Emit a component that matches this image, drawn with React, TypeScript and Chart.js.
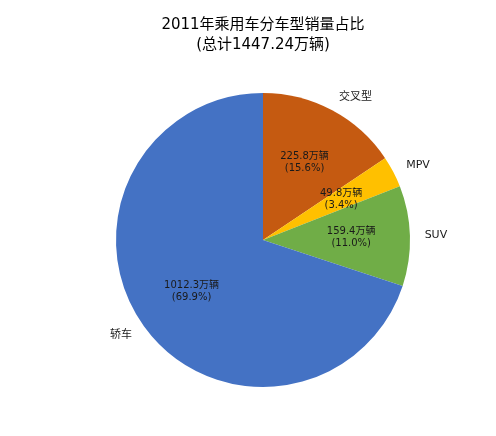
import { Chart, registerables } from "chart.js";
import { useEffect, useRef } from "react";

Chart.register(...registerables);

const categories = ["交叉型", "MPV", "SUV", "轿车"];
const sales = [225.8, 49.8, 159.4, 1012.3];
const percents = ["15.6%", "3.4%", "11.0%", "69.9%"];
const colors = ["#C55A11", "#FFC000", "#70AD47", "#4472C4"];

const FONT = "'DejaVu Sans', 'Noto Sans CJK SC', sans-serif";

const sliceLabels = {
  id: "sliceLabels",
  afterDatasetsDraw(chart: Chart) {
    const { ctx } = chart;
    const meta = chart.getDatasetMeta(0);
    ctx.save();
    meta.data.forEach((el: any, i: number) => {
      const { x, y, startAngle, endAngle, outerRadius } = el.getProps(
        ["x", "y", "startAngle", "endAngle", "outerRadius"],
        true
      );
      const mid = (startAngle + endAngle) / 2;
      const cos = Math.cos(mid);
      const sin = Math.sin(mid);

      // value + percent inside
      const ir = outerRadius * 0.6;
      ctx.fillStyle = "#1a1a1a";
      ctx.font = `10px ${FONT}`;
      ctx.textAlign = "center";
      ctx.textBaseline = "middle";
      ctx.fillText(`${sales[i]}万辆`, x + cos * ir, y + sin * ir - 6);
      ctx.fillText(`(${percents[i]})`, x + cos * ir, y + sin * ir + 6);

      // category outside
      const or = outerRadius * 1.1;
      ctx.font = `11px ${FONT}`;
      ctx.textAlign = cos >= 0 ? "left" : "right";
      ctx.fillText(categories[i], x + cos * or, y + sin * or);
    });
    ctx.restore();
  },
};

export default function App() {
  const canvasRef = useRef<HTMLCanvasElement | null>(null);
  const chartRef = useRef<Chart | null>(null);

  useEffect(() => {
    const canvas = canvasRef.current;
    if (!canvas) {
      return;
    }

    chartRef.current?.destroy();
    chartRef.current = new Chart(canvas, {
      type: "pie",
      data: {
        labels: categories,
        datasets: [
          {
            data: sales,
            backgroundColor: colors,
            borderWidth: 0,
          },
        ],
      },
      options: {
        animation: false,
        responsive: true,
        maintainAspectRatio: false,
        layout: { padding: { top: 0, left: 30, right: 0, bottom: 49 } },
        plugins: {
          legend: { display: false },
          tooltip: { enabled: false },
          title: {
            display: true,
            text: ["2011年乘用车分车型销量占比", "(总计1447.24万辆)"],
            color: "#000",
            font: { family: FONT, size: 15, weight: "normal", lineHeight: 1.333 },
            padding: { top: 15, bottom: 38 },
          },
        },
      },
      plugins: [sliceLabels],
    });

    return () => {
      chartRef.current?.destroy();
      chartRef.current = null;
    };
  }, []);

  return (
    <div
      style={{
        position: "fixed",
        left: 0,
        top: 0,
        width: 496,
        height: 436,
        background: "#fff",
      }}
    >
      <canvas ref={canvasRef} />
    </div>
  );
}
